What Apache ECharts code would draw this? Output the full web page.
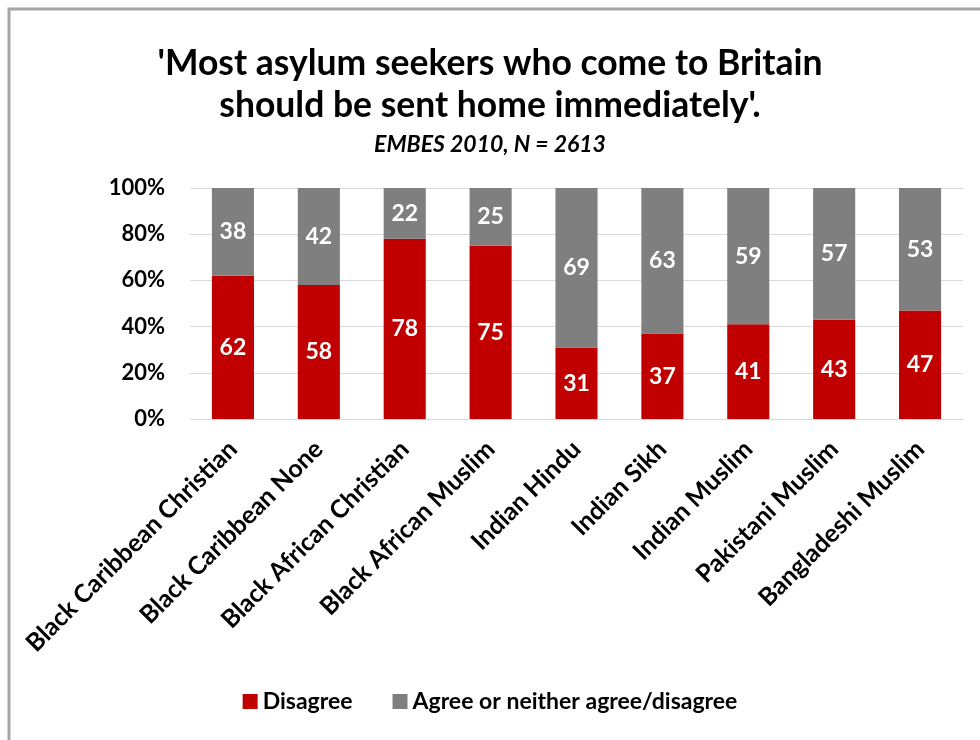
<!DOCTYPE html>
<html>
<head>
<meta charset="utf-8">
<script src="https://cdn.jsdelivr.net/npm/echarts@6/dist/echarts.min.js"></script>
<style>
  html, body { margin: 0; padding: 0; background: #ffffff; }
  #chart { width: 980px; height: 740px; }
</style>
</head>
<body>
<div id="chart"></div>
<script>
// Survey groups (ethnicity + religion)
const categories = [
  'Black Caribbean Christian',
  'Black Caribbean None',
  'Black African Christian',
  'Black African Muslim',
  'Indian Hindu',
  'Indian Sikh',
  'Indian Muslim',
  'Pakistani Muslim',
  'Bangladeshi Muslim'
];

// Percentages per group
const disagree = [62, 58, 78, 75, 31, 37, 41, 43, 47];
const agreeOrNeither = [38, 42, 22, 25, 69, 63, 59, 57, 53];

const seriesNames = ['Disagree', 'Agree or neither agree/disagree'];
const yTicks = [0, 20, 40, 60, 80, 100];

const FONT = 'Lato, "Open Sans", sans-serif';

const chart = echarts.init(document.getElementById('chart'), null, { renderer: 'canvas' });

const valueLabel = {
  show: true,
  position: 'inside',
  color: '#ffffff',
  fontFamily: FONT,
  fontWeight: 'bold',
  fontSize: 23
};

chart.setOption({
  backgroundColor: '#ffffff',
  animation: false,
  title: [
    {
      text: "'Most asylum seekers who come to Britain\nshould be sent home immediately'.",
      left: 'center',
      top: 38,
      textStyle: {
        fontFamily: FONT,
        fontWeight: 'bold',
        fontSize: 35.5,
        lineHeight: 42,
        color: '#000000'
      }
    },
    {
      text: 'EMBES 2010, N = 2613',
      left: 'center',
      top: 128,
      textStyle: {
        fontFamily: FONT,
        fontWeight: 'bold',
        fontStyle: 'italic',
        fontSize: 23,
        color: '#000000'
      }
    }
  ],
  legend: {
    data: seriesNames,
    bottom: 22,
    left: 'center',
    itemWidth: 15,
    itemHeight: 15,
    itemGap: 40,
    icon: 'rect',
    textStyle: {
      fontFamily: FONT,
      fontWeight: 'bold',
      fontSize: 23,
      color: '#000000'
    }
  },
  grid: {
    left: 190,
    right: 17,
    top: 188,
    bottom: 321,
    containLabel: false
  },
  xAxis: {
    type: 'category',
    data: categories,
    axisLine: { show: true, lineStyle: { color: '#d9d9d9', width: 1 } },
    axisTick: { show: false },
    axisLabel: {
      rotate: 45,
      margin: 26,
      interval: 0,
      fontFamily: FONT,
      fontWeight: 'bold',
      fontSize: 25,
      color: '#000000'
    }
  },
  yAxis: {
    type: 'value',
    min: yTicks[0],
    max: yTicks[yTicks.length - 1],
    interval: 20,
    axisLine: { show: false },
    axisTick: { show: false },
    splitLine: { lineStyle: { color: '#d9d9d9', width: 1 } },
    axisLabel: {
      margin: 25,
      formatter: v => v + '%',
      fontFamily: FONT,
      fontWeight: 'bold',
      fontSize: 22,
      color: '#000000'
    }
  },
  series: [
    {
      name: seriesNames[0],
      type: 'bar',
      stack: 'total',
      data: disagree,
      barWidth: '49%',
      itemStyle: { color: '#c00000' },
      label: valueLabel
    },
    {
      name: seriesNames[1],
      type: 'bar',
      stack: 'total',
      data: agreeOrNeither,
      barWidth: '49%',
      itemStyle: { color: '#7f7f7f' },
      label: valueLabel
    }
  ],
  graphic: [
    {
      type: 'polyline',
      shape: { points: [[9, 740], [9, 9], [980, 9]] },
      style: { stroke: '#a6a6a6', lineWidth: 3, fill: null }
    }
  ]
});
</script>
</body>
</html>
